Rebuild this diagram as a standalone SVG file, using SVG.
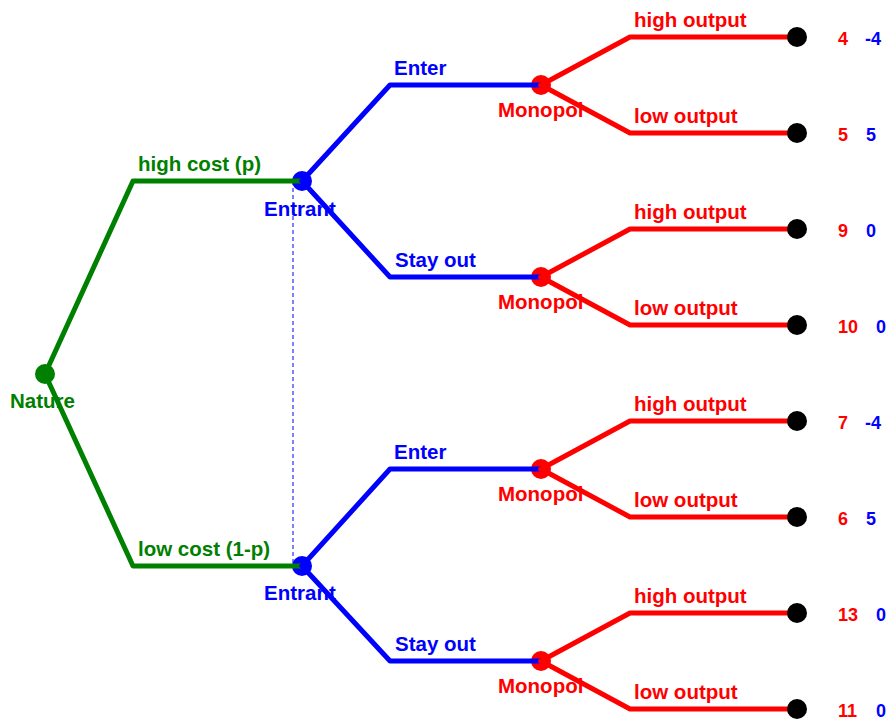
<svg xmlns="http://www.w3.org/2000/svg" width="888" height="721" viewBox="0 0 888 721">
<style>
text{font-family:"Liberation Sans",Arial,sans-serif;font-weight:bold;font-size:20.5px}
.g{fill:#008000}.b{fill:#0000ff}.r{fill:#ff0000}.k{fill:#000}
.eg{stroke:#008000}.eb{stroke:#0000ff}.er{stroke:#ff0000}
.e{fill:none;stroke-width:5;stroke-linejoin:round;stroke-linecap:round}
.p{font-size:18px}
</style>
<rect width="888" height="721" fill="#fff"/>
<g id="info-set"><line x1="293" y1="181" x2="293" y2="566" stroke="#0000ff" stroke-width="1" stroke-dasharray="4,3"/></g>
<g id="nature"><text class="g" x="10" y="408">Nature</text><circle class="g" cx="45" cy="374" r="10"/></g>
<g id="entrant1"><text class="b" x="264" y="216">Entrant</text><circle class="b" cx="302" cy="181" r="10"/></g>
<g id="entrant2"><text class="b" x="264" y="600">Entrant</text><circle class="b" cx="302" cy="566" r="10"/></g>
<g id="monopol1"><text class="r" x="498" y="117">Monopol</text><circle class="r" cx="541" cy="85" r="10"/></g>
<g id="monopol2"><text class="r" x="498" y="309">Monopol</text><circle class="r" cx="541" cy="277" r="10"/></g>
<g id="monopol3"><text class="r" x="498" y="501">Monopol</text><circle class="r" cx="541" cy="469" r="10"/></g>
<g id="monopol4"><text class="r" x="498" y="693">Monopol</text><circle class="r" cx="541" cy="661" r="10"/></g>
<g id="connectors">
<polyline class="e eg" points="45,374 133,181 302,181"/>
<polyline class="e eg" points="45,374 133,566 302,566"/>
<polyline class="e eb" points="302,181 390,85 541,85"/>
<polyline class="e eb" points="302,181 390,277 541,277"/>
<polyline class="e eb" points="302,566 390,469 541,469"/>
<polyline class="e eb" points="302,566 390,661 541,661"/>
<polyline class="e er" points="541,85 630,37 797,37"/>
<polyline class="e er" points="541,85 630,133 797,133"/>
<polyline class="e er" points="541,277 630,229 797,229"/>
<polyline class="e er" points="541,277 630,325 797,325"/>
<polyline class="e er" points="541,469 630,421 797,421"/>
<polyline class="e er" points="541,469 630,517 797,517"/>
<polyline class="e er" points="541,661 630,613 797,613"/>
<polyline class="e er" points="541,661 630,709 797,709"/>
<text class="g" x="138" y="171">high cost (p)</text>
<text class="g" x="138" y="556">low cost (1-p)</text>
<text class="b" x="394" y="75">Enter</text>
<text class="b" x="395" y="267">Stay out</text>
<text class="b" x="394" y="459">Enter</text>
<text class="b" x="395" y="651">Stay out</text>
<text class="r" x="634" y="27">high output</text>
<text class="r" x="634" y="123">low output</text>
<text class="r" x="634" y="219">high output</text>
<text class="r" x="634" y="315">low output</text>
<text class="r" x="634" y="411">high output</text>
<text class="r" x="634" y="507">low output</text>
<text class="r" x="634" y="603">high output</text>
<text class="r" x="634" y="699">low output</text>
</g>
<g id="t1"><circle class="k" cx="797" cy="37" r="10"/><text class="r p" x="838" y="45">4</text><text class="b p" x="865" y="45">-4</text></g>
<g id="t2"><circle class="k" cx="797" cy="133" r="10"/><text class="r p" x="838" y="141">5</text><text class="b p" x="866" y="141">5</text></g>
<g id="t3"><circle class="k" cx="797" cy="229" r="10"/><text class="r p" x="838" y="237">9</text><text class="b p" x="866" y="237">0</text></g>
<g id="t4"><circle class="k" cx="797" cy="325" r="10"/><text class="r p" x="838" y="333">10</text><text class="b p" x="876" y="333">0</text></g>
<g id="t5"><circle class="k" cx="797" cy="421" r="10"/><text class="r p" x="838" y="429">7</text><text class="b p" x="865" y="429">-4</text></g>
<g id="t6"><circle class="k" cx="797" cy="517" r="10"/><text class="r p" x="838" y="525">6</text><text class="b p" x="866" y="525">5</text></g>
<g id="t7"><circle class="k" cx="797" cy="613" r="10"/><text class="r p" x="838" y="621">13</text><text class="b p" x="876" y="621">0</text></g>
<g id="t8"><circle class="k" cx="797" cy="709" r="10"/><text class="r p" x="838" y="717">11</text><text class="b p" x="876" y="717">0</text></g>
</svg>
